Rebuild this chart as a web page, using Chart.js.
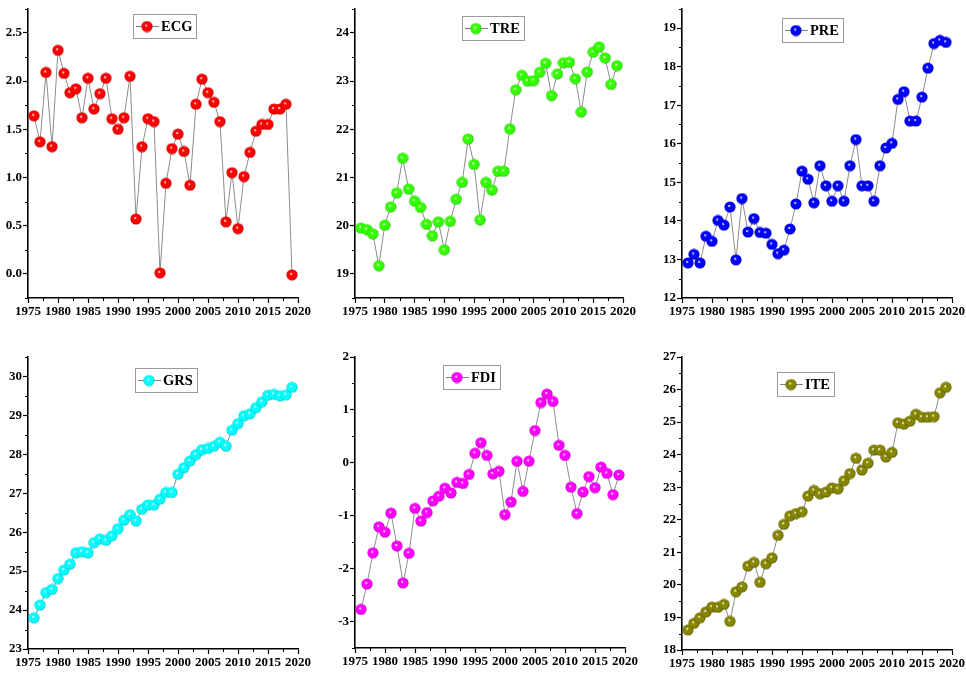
<!DOCTYPE html>
<html>
<head>
<meta charset="utf-8">
<script src="https://cdn.jsdelivr.net/npm/chart.js@4.4.1/dist/chart.umd.min.js"></script>
<style>
  body { margin: 0; background: #fff; }
  #wrap { position: relative; width: 966px; height: 677px; background: #fff; }
  canvas { position: absolute; }
</style>
</head>
<body>
<div id="wrap">
  <canvas id="c1" width="320" height="330" style="left:0;top:0"></canvas>
  <canvas id="c2" width="320" height="330" style="left:320px;top:0"></canvas>
  <canvas id="c3" width="326" height="330" style="left:640px;top:0"></canvas>
  <canvas id="c4" width="320" height="337" style="left:0;top:340px"></canvas>
  <canvas id="c5" width="320" height="337" style="left:320px;top:340px"></canvas>
  <canvas id="c6" width="326" height="337" style="left:640px;top:340px"></canvas>
</div>
<script>
// years 1976-2019
const years = [1976,1977,1978,1979,1980,1981,1982,1983,1984,1985,1986,1987,1988,1989,1990,
  1991,1992,1993,1994,1995,1996,1997,1998,1999,2000,2001,2002,2003,2004,2005,2006,2007,2008,
  2009,2010,2011,2012,2013,2014,2015,2016,2017,2018,2019];

const ecg = [1.64,1.37,2.09,1.32,2.32,2.08,1.88,1.92,1.62,2.03,1.71,1.87,2.03,1.61,1.50,
  1.62,2.05,0.57,1.32,1.61,1.58,0.01,0.94,1.30,1.45,1.27,0.92,1.76,2.02,1.88,1.78,1.58,0.54,
  1.05,0.47,1.01,1.26,1.48,1.55,1.55,1.71,1.71,1.76,-0.01];

const tre = [19.95,19.92,19.83,19.17,20.01,20.39,20.68,21.40,20.76,20.51,20.38,20.03,19.79,20.08,19.50,
  20.09,20.55,20.90,21.80,21.27,20.12,20.90,20.74,21.13,21.13,22.01,22.82,23.12,23.00,23.01,23.18,23.37,22.70,
  23.15,23.38,23.39,23.05,22.36,23.19,23.60,23.71,23.48,22.93,23.32];

const pre = [12.91,13.13,12.91,13.60,13.47,14.01,13.89,14.36,12.99,14.58,13.71,14.06,13.70,13.68,13.39,
  13.15,13.24,13.79,14.44,15.29,15.08,14.47,15.43,14.91,14.51,14.91,14.51,15.43,16.11,14.91,14.91,14.51,15.43,
  15.89,16.01,17.15,17.35,16.59,16.59,17.21,17.96,18.60,18.68,18.63];

const grs = [23.80,24.13,24.45,24.53,24.81,25.03,25.18,25.47,25.50,25.47,25.73,25.83,25.79,25.91,26.09,
  26.31,26.45,26.29,26.59,26.70,26.70,26.85,27.02,27.02,27.49,27.66,27.83,27.99,28.12,28.15,28.21,28.31,28.21,
  28.62,28.79,28.99,29.04,29.20,29.35,29.52,29.54,29.50,29.53,29.72];

const fdi = [-2.77,-2.29,-1.70,-1.21,-1.31,-0.95,-1.57,-2.27,-1.71,-0.86,-1.10,-0.94,-0.72,-0.63,-0.48,
  -0.57,-0.37,-0.39,-0.22,0.18,0.38,0.14,-0.21,-0.16,-0.98,-0.74,0.03,-0.54,0.03,0.61,1.14,1.30,1.16,
  0.33,0.14,-0.46,-0.96,-0.55,-0.26,-0.47,-0.08,-0.20,-0.60,-0.23];

const ite = [18.62,18.82,18.99,19.17,19.32,19.31,19.40,18.88,19.79,19.94,20.58,20.69,20.08,20.65,20.83,
  21.52,21.86,22.12,22.19,22.25,22.73,22.90,22.80,22.85,22.98,22.95,23.20,23.42,23.89,23.53,23.74,24.14,24.14,
  23.93,24.07,24.98,24.94,25.03,25.24,25.15,25.15,25.17,25.90,26.07];

// tick labels
const xTicks = [1975,1980,1985,1990,1995,2000,2005,2010,2015,2020];
const ecgTicks = [0,0.5,1,1.5,2,2.5];
const treTicks = [19,20,21,22,23,24];
const preTicks = [12,13,14,15,16,17,18,19];
const grsTicks = [23,24,25,26,27,28,29,30];
const fdiTicks = [-3,-2,-1,0,1,2];
const iteTicks = [18,19,20,21,22,23,24,25,26,27];

const tickFont = { family: '"Liberation Serif", serif', weight: 'bold', size: 13 };

// shiny ball marker
function sphere(color, dark) {
  const c = document.createElement('canvas');
  c.width = 12; c.height = 12;
  const g = c.getContext('2d');
  const grad = g.createRadialGradient(5, 4.8, 0.2, 6, 6, 6);
  grad.addColorStop(0, '#ffffff');
  grad.addColorStop(0.25, color);
  grad.addColorStop(0.75, color);
  grad.addColorStop(1, dark);
  g.fillStyle = grad;
  g.beginPath();
  g.arc(6, 6, 5.6, 0, Math.PI * 2);
  g.fill();
  return c;
}

// small ticks between the labelled ones
const minorTicks = {
  id: 'minorTicks',
  afterDraw(chart) {
    const ctx = chart.ctx;
    ctx.save();
    ctx.strokeStyle = '#000';
    ctx.lineWidth = 1;
    ['x', 'y'].forEach(id => {
      const s = chart.scales[id];
      const v = s.ticks.map(t => t.value);
      const step = v[1] - v[0];
      for (let m = v[0] - step / 2; m <= s.max + 1e-9; m += step) {
        if (m < s.min - 1e-9) continue;
        const p = Math.round(s.getPixelForValue(m)) + 0.5;
        ctx.beginPath();
        if (id === 'x') { ctx.moveTo(p, s.top); ctx.lineTo(p, s.top + 3); }
        else { ctx.moveTo(s.right, p); ctx.lineTo(s.right - 3, p); }
        ctx.stroke();
      }
    });
    ctx.restore();
  }
};

// legend in a framed box inside the plot
const boxLegend = {
  id: 'boxLegend',
  afterDraw(chart, args, opts) {
    const ctx = chart.ctx, a = chart.chartArea;
    const ds = chart.data.datasets[0];
    ctx.save();
    ctx.font = 'bold 14.5px "Liberation Serif"';
    const tw = ctx.measureText(ds.label).width;
    const x = Math.round(a.left + opts.dx), y = Math.round(a.top + opts.dy);
    const w = Math.round(29 + tw + 3), h = 24;
    ctx.strokeStyle = '#9a9a9a';
    ctx.lineWidth = 1;
    ctx.strokeRect(x + 0.5, y + 0.5, w, h);
    ctx.strokeStyle = '#808080';
    ctx.beginPath();
    ctx.moveTo(x + 3, y + h / 2 + 0.5);
    ctx.lineTo(x + 26, y + h / 2 + 0.5);
    ctx.stroke();
    ctx.drawImage(ds.pointStyle, x + 14 - 6, y + h / 2 - 5.5);
    ctx.fillStyle = '#000';
    ctx.textBaseline = 'middle';
    ctx.fillText(ds.label, x + 28, y + h / 2 + 1.5);
    ctx.restore();
  }
};

const panels = [
  { id: 'c1', label: 'ECG', values: ecg, yTicks: ecgTicks, yMin: -0.25, yMax: 2.75, dec: 1, color: '#ff0000', dark: '#a00000', yw: 28, right: 22, top: 8, xh: 32, ldx: 105, ldy: 5 },
  { id: 'c2', label: 'TRE', values: tre, yTicks: treTicks, yMin: 18.5, yMax: 24.5, dec: 0, color: '#33ff00', dark: '#1c9a00', yw: 35, right: 17, top: 7, xh: 32, ldx: 107, ldy: 7 },
  { id: 'c3', label: 'PRE', values: pre, yTicks: preTicks, yMin: 12, yMax: 19.5, dec: 0, color: '#0000ff', dark: '#000088', yw: 42, right: 14, top: 6, xh: 32, ldx: 100, ldy: 9 },
  { id: 'c4', label: 'GRS', values: grs, yTicks: grsTicks, yMin: 23, yMax: 30.5, dec: 0, color: '#00ffff', dark: '#00a8b4', yw: 28, right: 22, top: 17, xh: 28, ldx: 107, ldy: 11 },
  { id: 'c5', label: 'FDI', values: fdi, yTicks: fdiTicks, yMin: -3.5, yMax: 2, dec: 0, color: '#ff00ff', dark: '#9a009a', yw: 35, right: 15, top: 17, xh: 29, ldx: 88, ldy: 8 },
  { id: 'c6', label: 'ITE', values: ite, yTicks: iteTicks, yMin: 18, yMax: 27, dec: 0, color: '#868600', dark: '#444400', yw: 42, right: 14, top: 17, xh: 27, ldx: 95, ldy: 15 }
];

panels.forEach(p => {
  const ctx = document.getElementById(p.id).getContext('2d');
  new Chart(ctx, {
    type: 'line',
    data: {
      datasets: [{
        label: p.label,
        data: years.map((yr, i) => ({ x: yr, y: p.values[i] })),
        borderColor: '#8c8c8c',
        borderWidth: 1,
        tension: 0,
        pointStyle: sphere(p.color, p.dark),
        pointRadius: 5,
        pointHoverRadius: 5
      }]
    },
    options: {
      responsive: false,
      animation: false,
      layout: { padding: { top: p.top, right: p.right, left: 0, bottom: 0 } },
      plugins: {
        legend: { display: false },
        tooltip: { enabled: false },
        boxLegend: { dx: p.ldx, dy: p.ldy }
      },
      scales: {
        x: {
          type: 'linear', min: 1975, max: 2020,
          afterBuildTicks: s => { s.ticks = xTicks.map(v => ({ value: v })); },
          afterFit: s => { s.height = p.xh; },
          ticks: { autoSkip: false, maxRotation: 0, padding: 1, color: '#000', font: tickFont, callback: v => String(v) },
          grid: { drawOnChartArea: false, drawTicks: true, tickLength: 5, tickColor: '#000', tickWidth: 1.2 },
          border: { color: '#000', width: 1.6 }
        },
        y: {
          type: 'linear', min: p.yMin, max: p.yMax,
          afterBuildTicks: s => { s.ticks = p.yTicks.map(v => ({ value: v })); },
          afterFit: s => { s.width = p.yw; },
          ticks: { padding: 1, color: '#000', font: tickFont, callback: v => v.toFixed(p.dec) },
          grid: { drawOnChartArea: false, drawTicks: true, tickLength: 5, tickColor: '#000', tickWidth: 1.2 },
          border: { color: '#000', width: 1.6 }
        }
      }
    },
    plugins: [minorTicks, boxLegend]
  });
});
</script>
</body>
</html>
